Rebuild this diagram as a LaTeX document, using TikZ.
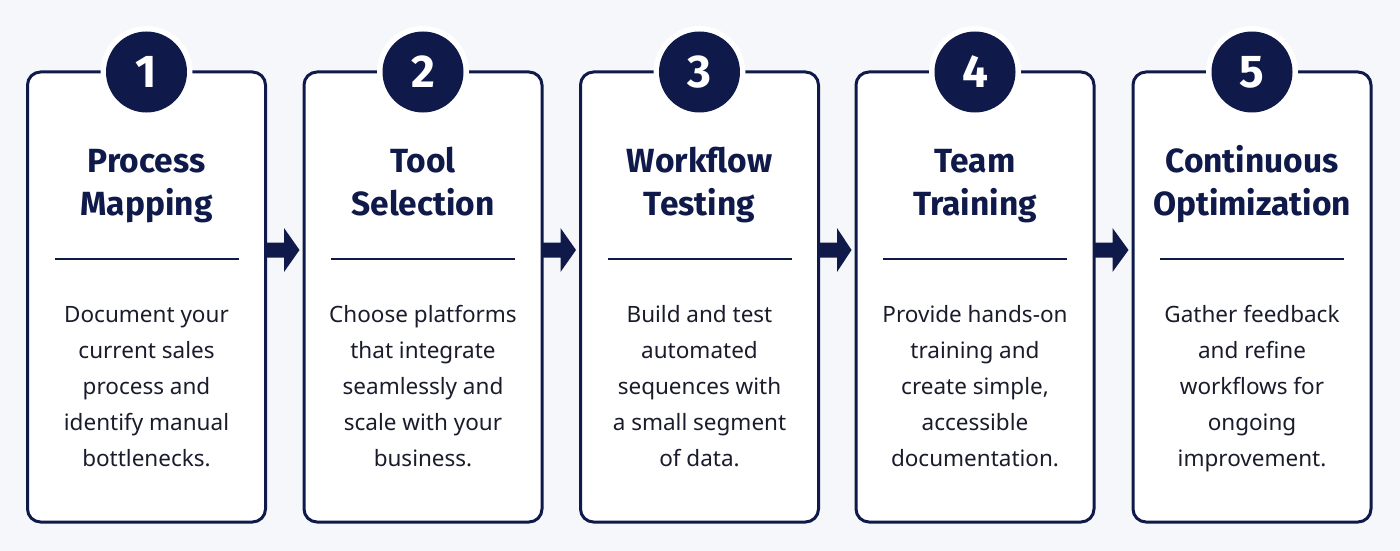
\documentclass[tikz,border=0pt]{standalone}
\usepackage{fontspec}
\setmainfont{Noto Sans}
\newfontfamily\titlefont{Fira Sans}
\usetikzlibrary{calc}
\definecolor{navy}{HTML}{0F1A4A}
\definecolor{bodyc}{HTML}{1A1C2C}
\definecolor{bg}{HTML}{F6F7FA}
\tikzset{
  card/.style={draw=navy, line width=3pt, fill=white, rounded corners=13pt,
    minimum width=238pt, minimum height=450pt, inner sep=0pt},
  badge/.style={circle, fill=navy, minimum size=81pt, inner sep=0pt,
    text=white, font=\titlefont\bfseries\fontsize{46}{46}\selectfont},
  gap/.style={circle, fill=white, minimum size=92pt, inner sep=0pt},
  ttl/.style={text=navy, align=center, inner sep=0pt, font=\titlefont\bfseries\fontsize{33.5}{43}\selectfont},
  bod/.style={text=bodyc, align=center, inner sep=0pt, font=\fontsize{22.5}{36}\selectfont},
  sep/.style={draw=navy, line width=2.5pt},
  arr/.style={fill=navy}
}
\begin{document}
\begin{tikzpicture}[x=1pt,y=-1pt]
\fill[bg] (0,0) rectangle (1400,551);
\useasboundingbox (0,0) rectangle (1400,551);
\foreach \i/\cx/\t/\b in {
 1/146.5/{Process\\Mapping}/{Document your\\current sales\\process and\\identify manual\\bottlenecks.},
 2/423/{Tool\\Selection}/{Choose platforms\\that integrate\\seamlessly and\\scale with your\\business.},
 3/699.5/{Workflow\\Testing}/{Build and test\\automated\\sequences with\\a small segment\\of data.},
 4/975/{Team\\Training}/{Provide hands-on\\training and\\create simple,\\accessible\\documentation.},
 5/1252/{Continuous\\Optimization}/{Gather feedback\\and refine\\workflows for\\ongoing\\improvement.}}{
  \node[card] (c\i) at (\cx,297) {};
  \node[gap] (g\i) at (\cx,72) {};
  \node[badge] (n\i) at (\cx,72) {\i};
  \node[ttl] (t\i) at (\cx,185) {\strut\t\strut};
  \coordinate (sl\i) at (\cx-92,259);
  \coordinate (sr\i) at (\cx+92,259);
  \draw[sep] (sl\i) -- (sr\i);
  \node[bod] (b\i) at (\cx,387) {\strut\b\strut};
}
\foreach \a/\b in {1/2,2/3,3/4,4/5}{
  \fill[arr] ($(c\a.east)+(-1.5,-47-7.5)$) -- ($(c\a.east)+(17,-47-7.5)$) -- ($(c\a.east)+(17,-47-22)$)
    -- ($(c\b.west)+(-3,-47)$) -- ($(c\a.east)+(17,-47+22)$) -- ($(c\a.east)+(17,-47+7.5)$)
    -- ($(c\a.east)+(-1.5,-47+7.5)$) -- cycle;
}
\end{tikzpicture}
\end{document}
